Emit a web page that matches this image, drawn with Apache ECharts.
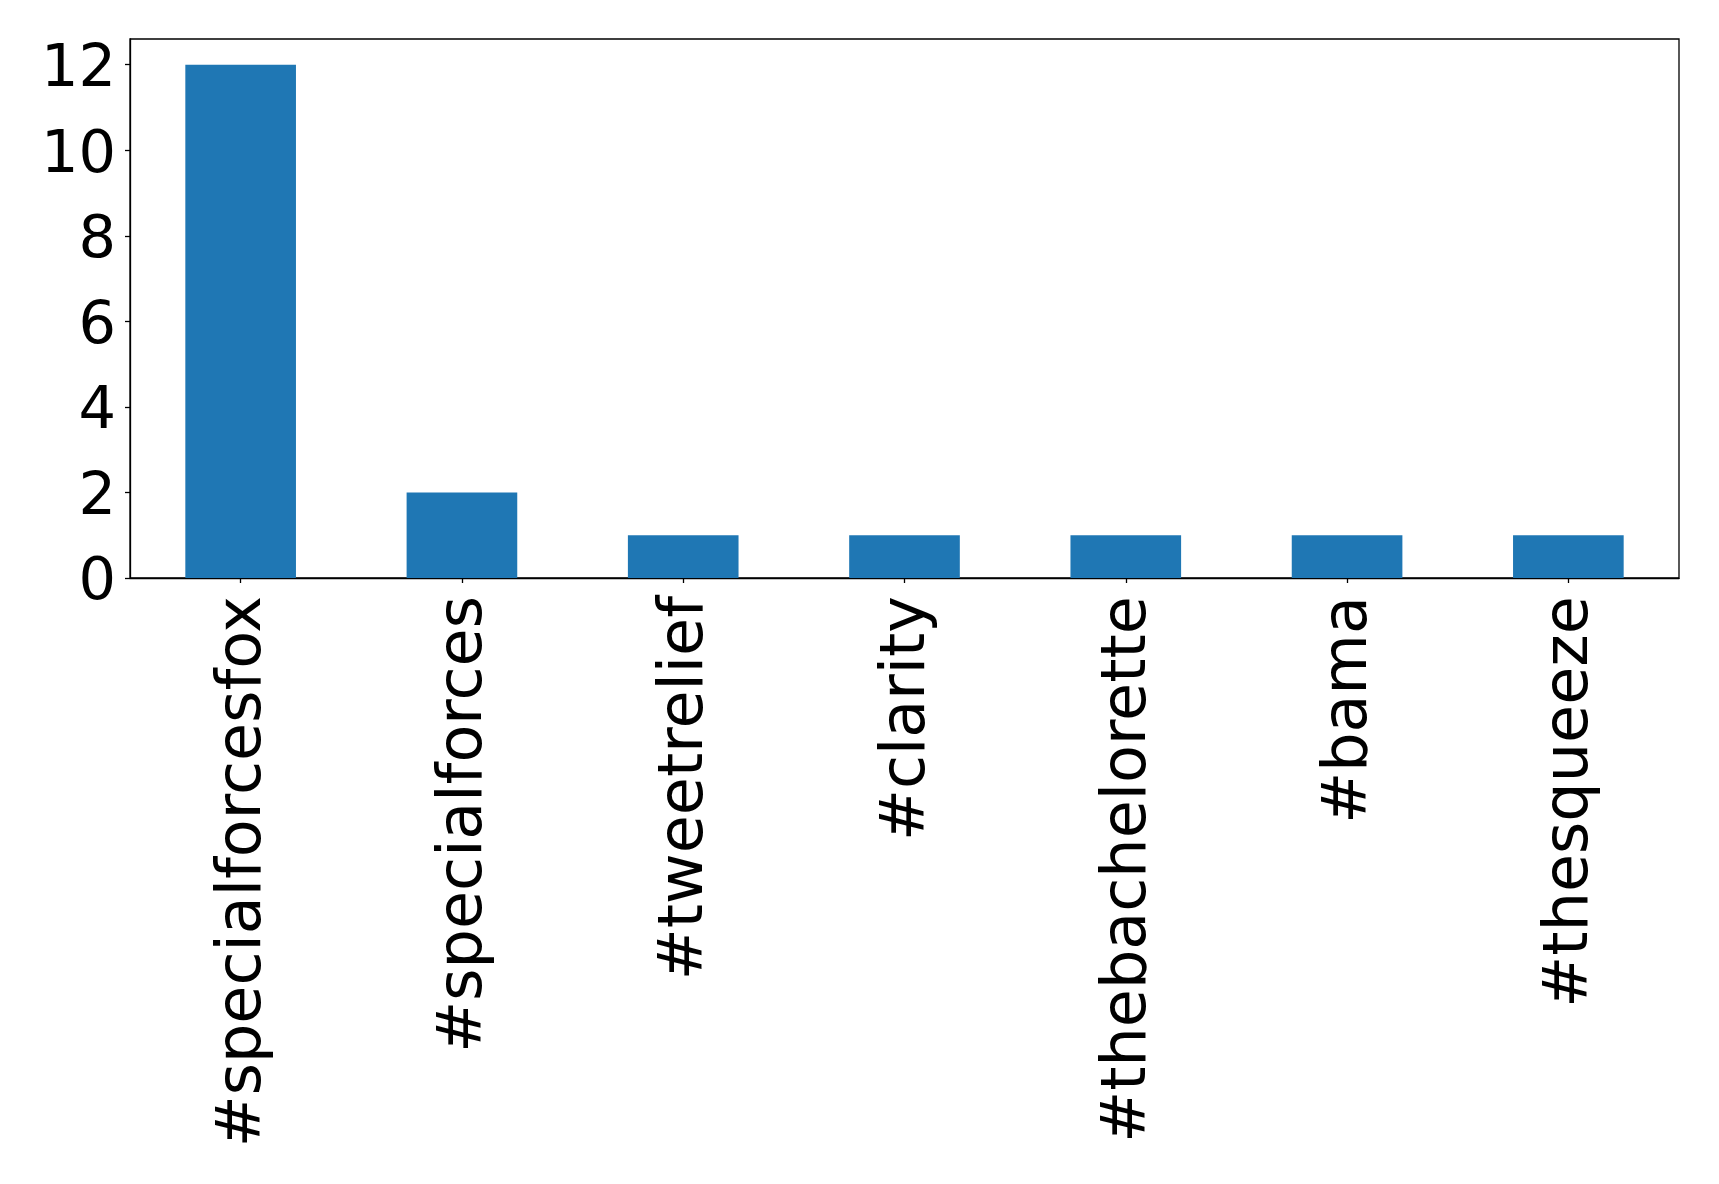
<!DOCTYPE html>
<html>
<head>
<meta charset="utf-8">
<script src="https://cdn.jsdelivr.net/npm/echarts@6/dist/echarts.min.js"></script>
<style>
html,body{margin:0;padding:0;background:#fff;}
#chart{width:1719px;height:1184px;}
</style>
</head>
<body>
<div id="chart"></div>
<script>
const categories = ["#specialforcesfox", "#specialforces", "#tweetrelief", "#clarity", "#thebachelorette", "#bama", "#thesqueeze"];
const counts = [12, 2, 1, 1, 1, 1, 1];
const yTicks = [0, 2, 4, 6, 8, 10, 12];

const chart = echarts.init(document.getElementById('chart'), null, {renderer: 'canvas'});
const font = 'DejaVu Sans';
chart.setOption({
  animation: false,
  backgroundColor: '#ffffff',
  grid: {
    left: 130, right: 40, top: 39, bottom: 606,
    show: true, borderColor: '#000000', borderWidth: 1.3, backgroundColor: 'transparent'
  },
  xAxis: {
    type: 'category',
    data: categories,
    boundaryGap: true,
    axisLine: {show: true, lineStyle: {color: '#000', width: 1.3}},
    axisTick: {show: true, alignWithLabel: true, length: 5, lineStyle: {color: '#000', width: 1.3}},
    axisLabel: {
      rotate: 90, interval: 0, margin: 18, color: '#000', fontFamily: font, fontSize: 62,
      formatter: function (v) { return '{x|' + v + '}'; },
      rich: {x: {fontFamily: font, fontSize: 62, color: '#000', padding: [6, 0, 0, 0]}}
    }
  },
  yAxis: {
    type: 'value',
    min: 0, max: 12.6, interval: 2,
    splitLine: {show: false},
    axisLine: {show: true, lineStyle: {color: '#000', width: 1.3}},
    axisTick: {show: true, length: 5, customValues: yTicks, lineStyle: {color: '#000', width: 1.3}},
    axisLabel: {
      customValues: yTicks, margin: 14, color: '#000', fontFamily: font, fontSize: 59,
      formatter: function (v) { return '{y|' + v + '}'; },
      rich: {y: {fontFamily: font, fontSize: 59, color: '#000', padding: [12, 0, 0, 0]}}
    }
  },
  series: [{
    type: 'bar',
    data: counts,
    barWidth: '50%',
    itemStyle: {color: '#1f77b4'}
  }]
});
</script>
</body>
</html>
